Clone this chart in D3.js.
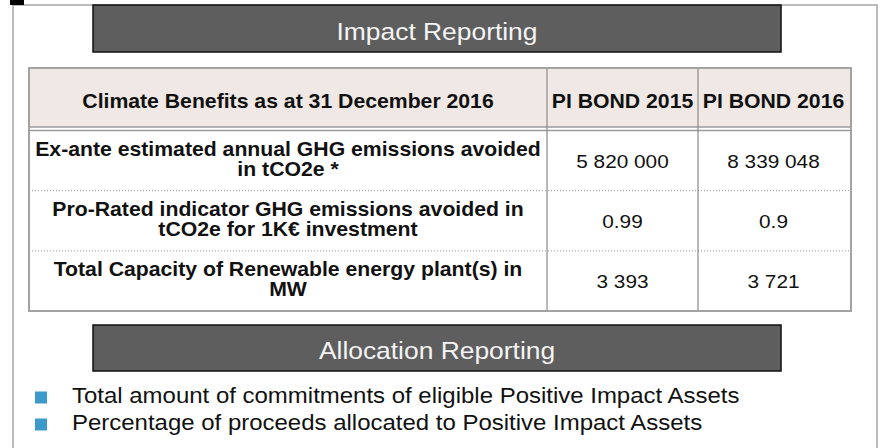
<!DOCTYPE html>
<html>
<head>
	<meta charset="UTF-8"/>
	<title>Impact Reporting</title>
	<style type="text/css">
		body {
		margin: 0;
		background: #fff;
		}
		svg {
		display: block;
		font-family: 'Liberation Sans', Arial, sans-serif;
		}
		text.title {
		font-size: 24px;
		fill: #f4f4f4;
		}
		text.head, text.label {
		font-size: 19.3px;
		font-weight: bold;
		fill: #111;
		}
		text.value {
		font-size: 18.9px;
		fill: #111;
		}
		text.bullet {
		font-size: 21.8px;
		fill: #111;
		}
	</style>
	<script src="https://d3js.org/d3.v7.min.js"></script>
</head>
<body>
	<svg width="881" height="448"></svg>
	<script>
		const boxTitles = ['Impact Reporting', 'Allocation Reporting'];
		const headerLabel = 'Climate Benefits as at 31 December 2016';
		const bonds = ['PI BOND 2015', 'PI BOND 2016'];
		const indicators = [
			['Ex-ante estimated annual GHG emissions avoided', 'in tCO2e *'],
			['Pro-Rated indicator GHG emissions avoided in', 'tCO2e for 1K€ investment'],
			['Total Capacity of Renewable energy plant(s) in', 'MW']
		];
		const values2015 = ['5 820 000', '0.99', '3 393'];
		const values2016 = ['8 339 048', '0.9', '3 721'];
		const bullets = [
			'Total amount of commitments of eligible Positive Impact Assets',
			'Percentage of proceeds allocated to Positive Impact Assets'
		];

		const SX = 1.1; // the source is a bit stretched horizontally
		const svg = d3.select('svg');

		// outer frame
		svg.append('path')
			.attr('d', 'M13,460V5H877V460')
			.attr('fill', 'none')
			.attr('stroke', '#a5a5a5')
			.attr('stroke-width', 1.5);
		svg.append('rect')
			.attr('x', 10).attr('y', 0).attr('width', 14).attr('height', 5)
			.attr('fill', '#000');

		function stretched(g, x, y, str, cls) {
			return g.append('text')
				.attr('class', cls)
				.attr('text-anchor', 'middle')
				.attr('transform', `translate(${x},${y}) scale(${SX},1)`)
				.text(str);
		}

		// dark title boxes
		const boxY = d3.scaleOrdinal().domain(boxTitles).range([5, 325]);
		const boxH = d3.scaleOrdinal().domain(boxTitles).range([47, 46]);
		const boxX = d3.scaleLinear().domain([0, 1]).range([93, 781]);
		boxTitles.forEach(t => {
			svg.append('rect')
				.attr('x', boxX(0)).attr('y', boxY(t))
				.attr('width', boxX(1) - boxX(0)).attr('height', boxH(t))
				.attr('fill', '#5e5e5e')
				.attr('stroke', '#111')
				.attr('stroke-width', 1.5);
			stretched(svg, (boxX(0) + boxX(1)) / 2, boxY(t) + boxH(t) / 2 + 11, t, 'title');
		});

		// table
		const tLeft = 29, tRight = 851, tTop = 68, headBottom = 127, tBottom = 311;
		const col1 = 547;
		const xCol = d3.scaleBand().domain(bonds).range([col1, 849]);
		const yRow = d3.scaleBand().domain(d3.range(indicators.length)).range([130.5, tBottom]);
		const table = svg.append('g');

		table.append('rect')
			.attr('x', tLeft).attr('y', tTop)
			.attr('width', tRight - tLeft).attr('height', headBottom - tTop)
			.attr('fill', '#efe8e5');

		// row separators (dotted)
		table.selectAll('line.sep')
			.data(d3.range(1, indicators.length))
			.join('line')
			.attr('x1', tLeft).attr('x2', tRight)
			.attr('y1', d => yRow(d)).attr('y2', d => yRow(d))
			.attr('stroke', '#9a9a9a')
			.attr('stroke-width', 1)
			.attr('stroke-dasharray', '1 2');

		// double line under header
		[headBottom, headBottom + 3.5].forEach(y => {
			table.append('line')
				.attr('x1', tLeft).attr('x2', tRight)
				.attr('y1', y).attr('y2', y)
				.attr('stroke', '#9a9a9a')
				.attr('stroke-width', 1.3);
		});

		// column lines
		table.selectAll('line.col')
			.data(bonds)
			.join('line')
			.attr('x1', d => xCol(d)).attr('x2', d => xCol(d))
			.attr('y1', tTop).attr('y2', tBottom)
			.attr('stroke', '#8a8a8a')
			.attr('stroke-width', 1.2);

		table.append('rect')
			.attr('x', tLeft).attr('y', tTop)
			.attr('width', tRight - tLeft).attr('height', tBottom - tTop)
			.attr('fill', 'none')
			.attr('stroke', '#a3a3a3')
			.attr('stroke-width', 2);

		// header texts
		const headY = 108;
		stretched(table, (tLeft + col1) / 2, headY, headerLabel, 'head');
		bonds.forEach(b => stretched(table, xCol(b) + xCol.bandwidth() / 2, headY, b, 'head'));

		// body
		indicators.forEach((lines, i) => {
			const cy = yRow(i) + yRow.bandwidth() / 2;
			lines.forEach((ln, j) => stretched(table, (tLeft + col1) / 2, cy - 4.5 + j * 19.5, ln, 'label'));
			stretched(table, xCol(bonds[0]) + xCol.bandwidth() / 2, cy + 7.5, values2015[i], 'value');
			stretched(table, xCol(bonds[1]) + xCol.bandwidth() / 2, cy + 7.5, values2016[i], 'value');
		});

		// bullet list
		const yBullet = d3.scaleLinear().domain([0, 1]).range([403, 430]);
		bullets.forEach((b, i) => {
			svg.append('rect')
				.attr('x', 35).attr('y', yBullet(i) - 11.5)
				.attr('width', 12).attr('height', 12)
				.attr('fill', '#3c9acb');
			svg.append('text')
				.attr('class', 'bullet')
				.attr('transform', `translate(72,${yBullet(i)}) scale(${SX},1)`)
				.text(b);
		});
	</script>
</body>
</html>
